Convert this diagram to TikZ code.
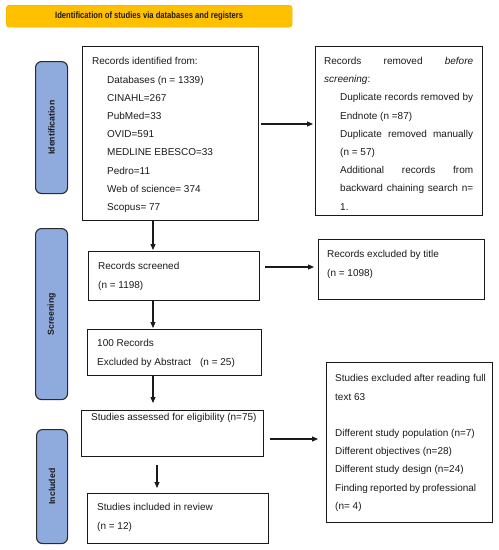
\documentclass[tikz,border=0pt]{standalone}
\usepackage{fontspec}
\setmainfont{Liberation Sans}
\newfontfamily\titlefont[FakeStretch=0.83]{Liberation Sans}
\usetikzlibrary{arrows.meta,calc}
\definecolor{bary}{HTML}{FFC000}
\definecolor{bardraw}{HTML}{E9B000}
\definecolor{phase}{HTML}{8FAADC}
\definecolor{phasedraw}{HTML}{2B2B2B}
\definecolor{ink}{HTML}{1A1A1A}
\begin{document}
\begin{tikzpicture}[x=1pt,y=-1pt,
  box/.style={draw=ink,line width=1.1pt,inner sep=0pt,anchor=north west},
  phasebox/.style={draw=phasedraw,fill=phase,rounded corners=6pt,line width=1.1pt,anchor=north west,inner sep=0pt},
  txt/.style={anchor=north west,inner sep=0pt,font=\fontsize{10}{18.2}\selectfont,text=ink,align=left},
  arr/.style={-{Triangle[length=6pt,width=5pt]},line width=1.1pt,draw=ink},
  phaselabel/.style={rotate=90,font=\bfseries\fontsize{8.7}{10}\selectfont,text=ink}]
\useasboundingbox (0,0) rectangle (499,550);

% title bar
\node[fill=bary,draw=bardraw,rounded corners=3pt,anchor=north west,inner sep=0pt,
      minimum width=286pt,minimum height=22pt,text=ink] (title) at (6,5)
  {\titlefont\bfseries\fontsize{9.2}{10}\selectfont Identification of studies via databases and registers};

% phase labels
\node[phasebox,minimum width=32pt,minimum height=132pt] (pid) at (35,61) {};
\node[phaselabel] (pidl) at (pid.center) {Identification};
\node[phasebox,minimum width=32pt,minimum height=171pt] (pscr) at (35,228) {};
\node[phaselabel] (pscrl) at (pscr.center) {Screening};
\node[phasebox,minimum width=31pt,minimum height=114pt] (pinc) at (36,429) {};
\node[phaselabel] (pincl) at (pinc.center) {Included};

% boxes
\node[box,minimum width=176pt,minimum height=174pt] (id) at (82,46) {};
\node[box,minimum width=167pt,minimum height=169pt] (rem) at (315,46) {};
\node[box,minimum width=171pt,minimum height=49pt] (scr) at (88,251) {};
\node[box,minimum width=166pt,minimum height=60pt] (ttl) at (318,239) {};
\node[box,minimum width=174pt,minimum height=46pt] (hun) at (87,329) {};
\node[box,minimum width=182pt,minimum height=46pt] (ass) at (81,410) {};
\node[box,minimum width=166pt,minimum height=160pt] (full) at (326,362) {};
\node[box,minimum width=181pt,minimum height=50pt] (inc) at (87,493) {};

% texts
\node[txt] (idt) at (92,57.4) {Records identified from:\\
\hspace*{15pt}Databases (n = 1339)\\
\hspace*{15pt}CINAHL=267\\
\hspace*{15pt}PubMed=33\\
\hspace*{15pt}OVID=591\\
\hspace*{15pt}MEDLINE EBESCO=33\\
\hspace*{15pt}Pedro=11\\
\hspace*{15pt}Web of science= 374\\
\hspace*{15pt}Scopus= 77};

\node[txt] (remt) at (324,57) {\makebox[149pt][s]{Records removed \textit{before}}\\
\textit{screening}:\\
\hspace*{16pt}\makebox[133pt][s]{Duplicate records removed by}\\
\hspace*{16pt}Endnote (n =87)\\
\hspace*{16pt}\makebox[133pt][s]{Duplicate removed manually}\\
\hspace*{16pt}(n = 57)\\
\hspace*{16pt}\makebox[133pt][s]{Additional records from}\\
\hspace*{16pt}\makebox[133pt][s]{backward chaining search n=}\\
\hspace*{16pt}1.};

\node[txt] (scrt) at (98,262.5) {Records screened\\(n = 1198)};
\node[txt] (ttlt) at (327,250.5) {Records excluded by title\\(n = 1098)};
\node[txt] (hunt) at (97,339.5) {100 Records\\Excluded by Abstract\hspace{9pt}(n = 25)};
\node[txt] (asst) at (91,413.5) {Studies assessed for eligibility (n=75)};
\node[txt] (inct) at (97,503.5) {Studies included in review\\(n = 12)};
\node[txt] (fullt) at (335,374.5) {Studies excluded after reading full\\
text 63\\
\mbox{}\\
Different study population (n=7)\\
Different objectives (n=28)\\
Different study design (n=24)\\
\makebox[141pt][s]{Finding reported by professional}\\
(n= 4)};

% connectors
\coordinate (y1) at (0,124);
\coordinate (y2) at (0,267);
\coordinate (y3) at (0,439);
\coordinate (x1) at (153,0);
\coordinate (x2) at (157,0);
\draw[arr,shorten <=2pt,shorten >=2pt] (id.east |- y1) -- (rem.west |- y1);
\draw[arr,shorten <=5pt,shorten >=4pt] (scr.east |- y2) -- (ttl.west |- y2);
\draw[arr,shorten <=6pt,shorten >=8pt] (ass.east |- y3) -- (full.west |- y3);
\draw[arr,shorten >=1pt] (x1 |- id.south) -- (x1 |- scr.north);
\draw[arr,shorten >=1pt] (x1 |- scr.south) -- (x1 |- hun.north);
\draw[arr,shorten >=7pt] (x1 |- hun.south) -- (x1 |- ass.north);
\draw[arr,shorten <=8pt,shorten >=5pt] (x2 |- ass.south) -- (x2 |- inc.north);
\end{tikzpicture}
\end{document}
